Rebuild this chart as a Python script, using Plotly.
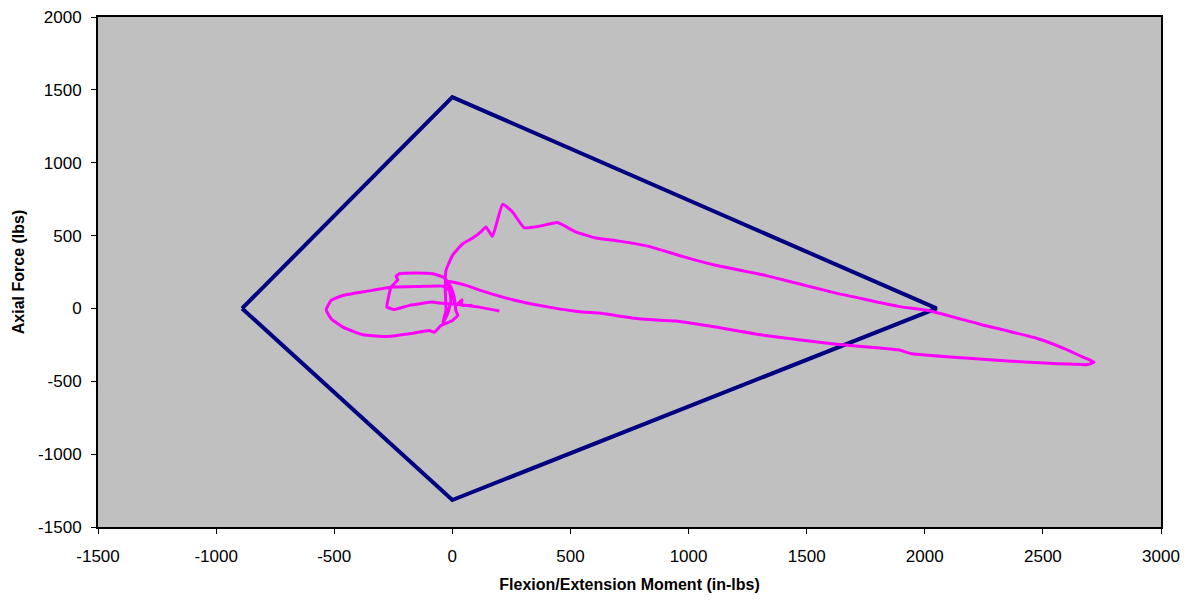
import plotly.graph_objects as go

# Tolerance envelope (navy polygon)
env_moment = [-890, 0, 2050, 0, -890]
env_force = [0, 1450, 0, -1315, 0]

# Measured trajectory (magenta)
traj_moment = [199, 114, 30, -55, -83, -182, -245, -277, -273, -259, -231, -238, -224, -153, -83, -34,
               -6, 8, 15, 23, 1, -48, -76, -97, -182, -273, -379, -463, -513, -534, -513, -463,
               -365, -252, -139, -41, -13, -6, -20, -41, -27, -30, -27, 1, 44, 86, 121, 142, 170,
               213, 255, 304, 367, 445, 522, 607, 705, 832, 973, 1114, 1325, 1607, 1888, 2015,
               2226, 2480, 2593, 2677, 2717, 2691, 2564, 2367, 2156, 1945, 1888, 1607, 1325, 1114,
               945, 790, 621, 551, 410, 255, 142, 58, 1, -27, -13, 4, 15, 41, 37, 86]
traj_force = [-18, 9, 27, 37, 44, 21, -7, 9, 55, 147, 197, 220, 238, 243, 238, 211,
              147, 78, -14, -48, -82, -117, -163, -151, -174, -192, -181, -128, -71, -9, 55, 89,
              117, 147, 151, 153, 124, 55, -37, -101, -14, 124, 261, 364, 444, 483, 525, 559, 495,
              715, 662, 554, 564, 589, 525, 483, 462, 426, 357, 296, 227, 112, 14, -14,
              -105, -208, -277, -339, -369, -385, -380, -362, -339, -311, -284, -243, -186, -128,
              -87, -71, -32, -25, 9, 60, 112, 158, 181, 188, 147, 78, 21, 60, 21, 21]

x_ticks = [-1500, -1000, -500, 0, 500, 1000, 1500, 2000, 2500, 3000]
x_labels = ["-1500", "-1000", "-500", "0", "500", "1000", "1500", "2000", "2500", "3000"]
y_ticks = [-1500, -1000, -500, 0, 500, 1000, 1500, 2000]
y_labels = ["-1500", "-1000", "-500", "0", "500", "1000", "1500", "2000"]

FONT = "Liberation Sans, Arial"

fig = go.Figure()
fig.add_trace(go.Scatter(x=env_moment, y=env_force, mode="lines",
                         line=dict(color="#000080", width=4), showlegend=False))
fig.add_trace(go.Scatter(x=traj_moment, y=traj_force, mode="lines",
                         line=dict(color="#FF00FF", width=3, shape="spline", smoothing=0.4),
                         showlegend=False))

axis_common = dict(showgrid=False, zeroline=False, showline=True, linecolor="black", linewidth=2,
                   mirror=True, ticks="outside", ticklen=5, tickcolor="black", tickwidth=1,
                   automargin=False, ticklabeloverflow="allow",
                   tickfont=dict(family=FONT, size=17, color="black"))

fig.update_layout(
    width=1172, height=585,
    margin=dict(l=90, r=19, t=9, b=66),
    paper_bgcolor="white", plot_bgcolor="#C0C0C0",
    xaxis=dict(range=[-1500, 3000], tickvals=x_ticks, ticktext=x_labels, ticklabelstandoff=8,
               **axis_common,
               title=dict(text="<b>Flexion/Extension Moment (in-lbs)</b>", standoff=19,
                          font=dict(family=FONT, size=16, color="black"))),
    yaxis=dict(range=[-1500, 2000], tickvals=y_ticks, ticktext=y_labels, ticklabelstandoff=6,
               **axis_common,
               title=dict(text="<b>Axial Force (lbs)</b>", standoff=10,
                          font=dict(family=FONT, size=16, color="black"))),
)

fig.write_html("out.html")
